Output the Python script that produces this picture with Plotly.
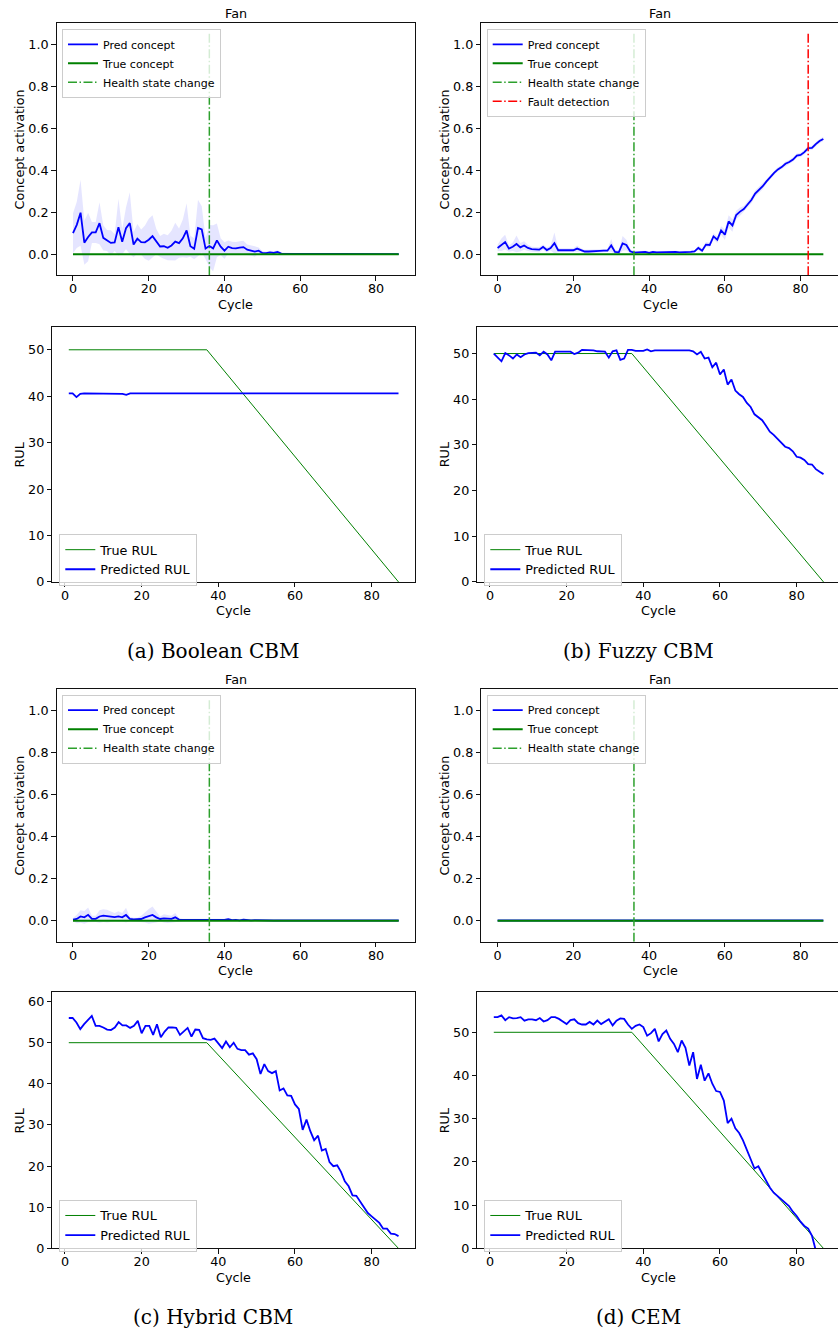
import plotly.graph_objects as go

W, H = 838, 1339

# ---------------- data ----------------
cycles = list(range(87))            # concept plots: cycle 0..86
rul_cycles = list(range(1, 88))     # RUL plots: cycle 1..87

true_concept_x = [0, 86]
true_concept_y = [0.0, 0.0]
true_rul_x = [1, 37, 87]
true_rul_y = [50, 50, 0]
health_state_cycle = 36
fault_detection_cycle = 82
vline_span = [-0.1, 1.05]

# (a) Boolean CBM - predicted concept and spread
pred_concept_a = [0.100, 0.140, 0.198, 0.055, 0.082, 0.104, 0.104, 0.148, 0.078, 0.066,
                  0.054, 0.056, 0.129, 0.060, 0.124, 0.148, 0.046, 0.074, 0.058, 0.057,
                  0.069, 0.086, 0.060, 0.037, 0.038, 0.031, 0.042, 0.060, 0.053, 0.076,
                  0.113, 0.038, 0.026, 0.125, 0.118, 0.027, 0.039, 0.028, 0.066, 0.036,
                  0.017, 0.036, 0.029, 0.028, 0.032, 0.034, 0.022, 0.019, 0.013, 0.017,
                  0.006, 0.005, 0.009, 0.006, 0.011, 0.003, 0.003, 0.003, 0.002, 0.002,
                  0.002, 0.001, 0.001, 0.001, 0.001, 0.001, 0.001, 0.001, 0.001, 0.001,
                  0.001, 0.001, 0.001, 0.001, 0.001, 0.001, 0.001, 0.001, 0.001, 0.001,
                  0.001, 0.001, 0.001, 0.001, 0.001, 0.001, 0.001]
std_concept_a = [0.095, 0.110, 0.157, 0.105, 0.115, 0.050, 0.050, 0.100, 0.060, 0.050,
                 0.060, 0.040, 0.135, 0.060, 0.100, 0.147, 0.060, 0.070, 0.060, 0.080,
                 0.100, 0.100, 0.060, 0.050, 0.060, 0.060, 0.070, 0.090, 0.070, 0.090,
                 0.130, 0.050, 0.050, 0.135, 0.110, 0.050, 0.100, 0.110, 0.080, 0.040,
                 0.040, 0.030, 0.030, 0.030, 0.030, 0.030, 0.025, 0.025, 0.025, 0.015,
                 0.010, 0.008, 0.008, 0.008, 0.008, 0.005, 0.005, 0.004, 0.004, 0.003,
                 0.003, 0.002, 0.002, 0.002, 0.002, 0.002, 0.002, 0.002, 0.002, 0.002,
                 0.002, 0.002, 0.002, 0.002, 0.002, 0.002, 0.002, 0.002, 0.002, 0.002,
                 0.002, 0.002, 0.002, 0.002, 0.002, 0.002, 0.002]

# (b) Fuzzy CBM
pred_concept_b = [0.030, 0.045, 0.058, 0.027, 0.036, 0.049, 0.033, 0.042, 0.030, 0.024,
                  0.022, 0.022, 0.035, 0.020, 0.030, 0.053, 0.019, 0.019, 0.019, 0.020,
                  0.019, 0.027, 0.020, 0.013, 0.013, 0.013, 0.013, 0.016, 0.017, 0.017,
                  0.042, 0.011, 0.009, 0.052, 0.044, 0.014, 0.008, 0.009, 0.011, 0.011,
                  0.006, 0.011, 0.009, 0.010, 0.010, 0.010, 0.010, 0.011, 0.009, 0.009,
                  0.010, 0.011, 0.014, 0.030, 0.017, 0.046, 0.044, 0.085, 0.069, 0.113,
                  0.093, 0.156, 0.137, 0.187, 0.203, 0.215, 0.237, 0.258, 0.289, 0.305,
                  0.324, 0.347, 0.368, 0.387, 0.404, 0.415, 0.431, 0.439, 0.451, 0.470,
                  0.473, 0.486, 0.505, 0.506, 0.524, 0.539, 0.549]
std_concept_b = [0.015, 0.030, 0.035, 0.015, 0.020, 0.040, 0.020, 0.020, 0.015, 0.012,
                 0.012, 0.012, 0.012, 0.012, 0.012, 0.050, 0.010, 0.010, 0.010, 0.010,
                 0.010, 0.015, 0.008, 0.008, 0.008, 0.008, 0.008, 0.008, 0.008, 0.008,
                 0.030, 0.010, 0.010, 0.035, 0.025, 0.010, 0.006, 0.006, 0.006, 0.006,
                 0.006, 0.006, 0.006, 0.006, 0.006, 0.006, 0.006, 0.006, 0.006, 0.006,
                 0.006, 0.006, 0.006, 0.010, 0.010, 0.012, 0.012, 0.015, 0.015, 0.020,
                 0.025, 0.030, 0.030, 0.020, 0.020, 0.015, 0.015, 0.015, 0.015, 0.015,
                 0.015, 0.010, 0.010, 0.010, 0.010, 0.010, 0.010, 0.010, 0.010, 0.010,
                 0.010, 0.010, 0.010, 0.010, 0.010, 0.010, 0.010]

# (c) Hybrid CBM
pred_concept_c = [0.005, 0.008, 0.020, 0.016, 0.028, 0.009, 0.009, 0.020, 0.024, 0.022,
                  0.019, 0.017, 0.020, 0.016, 0.027, 0.009, 0.006, 0.006, 0.008, 0.016,
                  0.020, 0.027, 0.016, 0.008, 0.011, 0.009, 0.009, 0.016, 0.005, 0.004,
                  0.004, 0.006, 0.003, 0.004, 0.005, 0.003, 0.004, 0.003, 0.006, 0.003,
                  0.004, 0.007, 0.003, 0.004, 0.002, 0.005, 0.003, 0.002, 0.003, 0.002,
                  0.001, 0.001, 0.001, 0.001, 0.002, 0.001, 0.001, 0.001, 0.001, 0.001,
                  0.001, 0.001, 0.001, 0.001, 0.001, 0.001, 0.001, 0.001, 0.001, 0.001,
                  0.001, 0.001, 0.001, 0.001, 0.001, 0.001, 0.001, 0.001, 0.001, 0.001,
                  0.001, 0.001, 0.001, 0.001, 0.001, 0.001, 0.001]
std_concept_c = [0.008, 0.020, 0.030, 0.030, 0.035, 0.015, 0.015, 0.030, 0.030, 0.030,
                 0.025, 0.020, 0.025, 0.020, 0.035, 0.010, 0.008, 0.008, 0.015, 0.025,
                 0.035, 0.040, 0.025, 0.012, 0.020, 0.020, 0.015, 0.020, 0.008, 0.005,
                 0.005, 0.005, 0.005, 0.005, 0.005, 0.005, 0.005, 0.005, 0.005, 0.005,
                 0.005, 0.005, 0.005, 0.005, 0.005, 0.005, 0.005, 0.005, 0.005, 0.005,
                 0.003, 0.002, 0.002, 0.002, 0.003, 0.002, 0.002, 0.002, 0.002, 0.002,
                 0.002, 0.002, 0.002, 0.002, 0.002, 0.002, 0.002, 0.002, 0.002, 0.002,
                 0.002, 0.002, 0.002, 0.002, 0.002, 0.002, 0.002, 0.002, 0.002, 0.002,
                 0.002, 0.002, 0.002, 0.002, 0.002, 0.002, 0.002]

# (d) CEM
pred_concept_d = [0.001, 0.001, 0.001, 0.001, 0.001, 0.001, 0.001, 0.001, 0.001, 0.001,
                  0.001, 0.001, 0.001, 0.001, 0.001, 0.001, 0.001, 0.001, 0.001, 0.001,
                  0.001, 0.001, 0.001, 0.001, 0.001, 0.001, 0.001, 0.001, 0.001, 0.001,
                  0.001, 0.002, 0.004, 0.001, 0.001, 0.001, 0.001, 0.001, 0.001, 0.001,
                  0.001, 0.001, 0.001, 0.001, 0.001, 0.001, 0.001, 0.001, 0.001, 0.001,
                  0.001, 0.001, 0.001, 0.001, 0.001, 0.001, 0.001, 0.001, 0.001, 0.001,
                  0.001, 0.001, 0.001, 0.001, 0.001, 0.001, 0.001, 0.001, 0.001, 0.001,
                  0.001, 0.001, 0.001, 0.001, 0.001, 0.001, 0.001, 0.001, 0.001, 0.001,
                  0.001, 0.001, 0.001, 0.001, 0.001, 0.001, 0.001]
std_concept_d = [0.001] * 87

# RUL predictions (cycles 1..87)
pred_rul_a = [40.6, 40.6, 39.8, 40.5, 40.6, 40.6, 40.6, 40.6, 40.6, 40.6,
              40.6, 40.6, 40.6, 40.6, 40.5, 40.3, 40.6, 40.6, 40.6, 40.6,
              40.6, 40.6, 40.6, 40.6, 40.6, 40.6, 40.6, 40.6, 40.6, 40.6,
              40.5, 40.6, 40.6, 40.6, 40.6, 40.6, 40.6, 40.6, 40.6, 40.6,
              40.6, 40.6, 40.6, 40.6, 40.6, 40.6, 40.6, 40.6, 40.6, 40.6,
              40.6, 40.6, 40.6, 40.6, 40.6, 40.6, 40.6, 40.6, 40.6, 40.6,
              40.6, 40.6, 40.6, 40.6, 40.6, 40.6, 40.6, 40.6, 40.6, 40.6,
              40.6, 40.6, 40.6, 40.6, 40.6, 40.6, 40.6, 40.6, 40.6, 40.6,
              40.6, 40.6, 40.6, 40.6, 40.6, 40.6, 40.6]
pred_rul_b = [50.0, 49.2, 48.3, 50.1, 49.6, 48.9, 49.8, 49.2, 49.8, 50.1,
              50.2, 50.2, 49.6, 50.4, 49.8, 48.5, 50.4, 50.4, 50.3, 50.3,
              50.4, 49.9, 50.2, 50.8, 50.8, 50.8, 50.7, 50.5, 50.5, 50.4,
              49.1, 50.5, 50.7, 48.6, 48.9, 50.8, 50.8, 50.6, 50.6, 50.6,
              50.9, 50.5, 50.7, 50.7, 50.7, 50.7, 50.7, 50.7, 50.7, 50.8,
              50.8, 50.7, 50.5, 49.8, 50.4, 48.9, 49.1, 47.0, 48.0, 45.4,
              46.5, 43.2, 44.3, 41.9, 41.1, 40.5, 39.2, 38.3, 36.7, 36.1,
              35.4, 34.2, 32.9, 32.2, 31.3, 30.5, 29.6, 29.3, 28.6, 27.4,
              27.2, 26.7, 25.8, 25.7, 24.7, 24.1, 23.6]
pred_rul_c = [56.0, 56.0, 54.9, 53.3, 54.5, 55.6, 56.5, 54.1, 54.1, 53.7,
              53.2, 53.1, 53.7, 55.0, 54.2, 54.2, 53.6, 54.1, 55.3, 52.3,
              54.1, 54.1, 51.9, 54.5, 51.3, 52.7, 53.7, 53.7, 53.6, 51.9,
              52.7, 53.6, 51.5, 53.2, 53.1, 51.1, 50.8, 50.7, 51.0, 49.7,
              48.7, 50.3, 48.9, 50.0, 48.5, 48.2, 48.2, 47.1, 47.4, 46.0,
              42.4, 44.8, 43.1, 42.6, 43.1, 38.4, 38.9, 37.2, 37.1, 35.0,
              33.9, 28.8, 31.3, 28.5, 26.3, 27.4, 23.8, 24.2, 21.0, 20.0,
              20.2, 18.6, 16.3, 15.1, 12.9, 12.8, 11.3, 10.1, 8.6, 7.8,
              7.0, 6.2, 4.8, 4.8, 3.6, 3.5, 3.0]
pred_rul_d = [53.5, 53.5, 53.9, 52.8, 53.5, 53.2, 53.3, 53.5, 52.7, 53.0,
              53.0, 52.8, 53.3, 52.5, 52.8, 53.5, 53.5, 53.1, 52.5, 51.9,
              52.8, 53.0, 52.1, 51.8, 51.8, 52.4, 51.8, 52.7, 51.9, 52.5,
              53.0, 51.6, 52.7, 53.2, 53.1, 51.8, 50.8, 51.5, 51.8, 51.2,
              49.2, 49.8, 50.8, 47.9, 49.6, 50.4, 48.5, 47.3, 45.4, 48.1,
              46.4, 42.3, 45.4, 39.2, 42.5, 38.8, 40.5, 38.1, 36.4, 36.2,
              34.2, 29.0, 30.0, 27.8, 26.7, 25.0, 22.9, 20.8, 18.5, 19.0,
              17.3, 15.8, 14.1, 12.9, 12.1, 11.3, 10.5, 9.8, 8.5, 7.5,
              6.2, 5.2, 4.6, 2.9, -0.5, -3.0, -4.0]

concept_ticks = [0.0, 0.2, 0.4, 0.6, 0.8, 1.0]
cycle_ticks = [0, 20, 40, 60, 80]
captions = ["(a) Boolean CBM", "(b) Fuzzy CBM", "(c) Hybrid CBM", "(d) CEM"]

# ---------------- layout geometry (pixels) ----------------
FONT = "DejaVu Sans"
FS = 12.75
BLUE = "#0000ff"
GREEN = "#008000"
HGREEN = "#2ca02c"
RED = "#ff0000"
DASHDOT = "9px,2.5px,1.5px,2.5px"

fig = go.Figure()
annotations = []
layout = {}


def fx(p):
    return p / W


def fy(p):
    return 1 - p / H


def ax_names(i):
    return ("x" if i == 1 else f"x{i}"), ("y" if i == 1 else f"y{i}")


def lay_names(i):
    return ("xaxis" if i == 1 else f"xaxis{i}"), ("yaxis" if i == 1 else f"yaxis{i}")


def add_axes(i, box, xrange, yrange, yticks, right_clipped, ytickformat=None):
    l, t, r, b = box
    xn, yn = ax_names(i)
    xl, yl = lay_names(i)
    common = dict(showline=True, linecolor="#111111", linewidth=1, ticks="outside",
                  ticklen=4.5, tickwidth=1, tickcolor="#111111", showgrid=False,
                  zeroline=False, tickfont=dict(family=FONT, size=FS, color="black"))
    layout[xl] = dict(common, domain=[fx(l), fx(r)], range=xrange, anchor=yn,
                      tickvals=cycle_ticks, mirror=True, ticklabelstandoff=-3)
    yd = dict(common, domain=[fy(b), fy(t)], range=yrange, anchor=xn,
              tickvals=yticks, mirror=not right_clipped)
    if ytickformat:
        yd["tickformat"] = ytickformat
    layout[yl] = yd


def text(x, y, s, size=FS, family=FONT, angle=0):
    annotations.append(dict(x=fx(x), y=fy(y), xref="paper", yref="paper", text=s,
                            showarrow=False, xanchor="center", yanchor="middle",
                            textangle=angle, font=dict(family=family, size=size, color="black")))


def legend_cfg(x, y, size):
    return dict(x=fx(x), y=fy(y), xanchor="left", yanchor="top", xref="paper", yref="paper",
                bgcolor="rgba(255,255,255,0.8)", bordercolor="#cccccc", borderwidth=1,
                font=dict(family=FONT, size=size, color="black"), traceorder="normal")


def concept_panel(i, box, xrange, pred, std, fault, leg_name, leg_pos, right):
    xn, yn = ax_names(i)
    upper = [p + s for p, s in zip(pred, std)]
    lower = [p - s for p, s in zip(pred, std)]
    fig.add_trace(go.Scatter(x=cycles + cycles[::-1], y=upper + lower[::-1], fill="toself",
                             fillcolor="rgba(0,0,255,0.1)", line=dict(width=0),
                             mode="lines", showlegend=False, hoverinfo="skip",
                             xaxis=xn, yaxis=yn))
    fig.add_trace(go.Scatter(x=cycles, y=pred, mode="lines", name="Pred concept",
                             line=dict(color=BLUE, width=1.8), legend=leg_name,
                             xaxis=xn, yaxis=yn))
    fig.add_trace(go.Scatter(x=true_concept_x, y=true_concept_y, mode="lines",
                             name="True concept", line=dict(color=GREEN, width=2),
                             legend=leg_name, xaxis=xn, yaxis=yn))
    fig.add_trace(go.Scatter(x=[health_state_cycle] * 2, y=vline_span, mode="lines",
                             name="Health state change",
                             line=dict(color=HGREEN, width=1.5, dash=DASHDOT),
                             legend=leg_name, xaxis=xn, yaxis=yn))
    if fault:
        fig.add_trace(go.Scatter(x=[fault_detection_cycle] * 2, y=vline_span, mode="lines",
                                 name="Fault detection",
                                 line=dict(color=RED, width=1.5, dash=DASHDOT),
                                 legend=leg_name, xaxis=xn, yaxis=yn))
    add_axes(i, box, xrange, [-0.1, 1.1], concept_ticks, right, ".1f")
    layout[leg_name] = legend_cfg(leg_pos[0], leg_pos[1], 11)
    l, t, r, b = box
    rr = r if not right else 839.6
    cx = (l + rr) / 2
    text(cx, t - 10, "Fan")
    text(cx, b + 29, "Cycle")
    text(l - 37.5 if not right else l - 37.1, (t + b) / 2, "Concept activation", angle=-90)


def rul_panel(i, box, xrange, yrange, yticks, pred, leg_name, leg_pos, right, caption, cap_x):
    xn, yn = ax_names(i)
    fig.add_trace(go.Scatter(x=true_rul_x, y=true_rul_y, mode="lines", name="True RUL",
                             line=dict(color=GREEN, width=1), legend=leg_name,
                             xaxis=xn, yaxis=yn))
    fig.add_trace(go.Scatter(x=rul_cycles, y=pred, mode="lines", name="Predicted RUL",
                             line=dict(color=BLUE, width=1.8), legend=leg_name,
                             xaxis=xn, yaxis=yn))
    add_axes(i, box, xrange, yrange, yticks, right)
    layout[leg_name] = legend_cfg(leg_pos[0], leg_pos[1], FS)
    l, t, r, b = box
    rr = r if not right else 839.5
    cx = (l + rr) / 2
    text(cx, b + 29, "Cycle")
    text(l - 33 if not right else l - 33.3, (t + b) / 2, "RUL", angle=-90)
    text(cap_x, b + 69, caption, size=20, family="DejaVu Serif")


rul_ticks_50 = [0, 10, 20, 30, 40, 50]
rul_ticks_60 = [0, 10, 20, 30, 40, 50, 60]

# top-left / top-right concept panels
concept_panel(1, (56.7, 23.3, 415, 276.7), [-4.3, 90.3], pred_concept_a, std_concept_a,
              False, "legend", (62, 29), False)
concept_panel(2, (481.3, 23.3, 838, 276.7), [-4.3, 89.87], pred_concept_b, std_concept_b,
              True, "legend2", (486.7, 29), True)
# RUL panels row 1
rul_panel(3, (52.3, 328.3, 415, 585), [-3.3, 91.3], [0, 55], rul_ticks_50, pred_rul_a,
          "legend3", (59.3, 536.7), False, captions[0], 213)
rul_panel(4, (477.3, 328.3, 838, 585), [-3.3, 90.78], [0, 55.9], rul_ticks_50, pred_rul_b,
          "legend4", (484.3, 536.7), True, captions[1], 638)
# bottom concept panels
concept_panel(5, (56.7, 692.7, 415, 946.7), [-4.3, 90.3], pred_concept_c, std_concept_c,
              False, "legend5", (62, 698.3), False)
concept_panel(6, (481.3, 692.7, 838, 946.7), [-4.3, 89.87], pred_concept_d, std_concept_d,
              False, "legend6", (486.7, 698.3), True)
# RUL panels row 2
rul_panel(7, (52.3, 997.3, 415, 1255), [-3.3, 91.3], [0, 62.3], rul_ticks_60, pred_rul_c,
          "legend7", (59.3, 1206), False, captions[2], 213)
rul_panel(8, (477.3, 997.3, 838, 1255), [-3.3, 90.78], [0, 59.3], rul_ticks_50, pred_rul_d,
          "legend8", (484.3, 1206), True, captions[3], 638)

fig.update_layout(width=W, height=H, margin=dict(l=0, r=0, t=0, b=0),
                  paper_bgcolor="white", plot_bgcolor="white",
                  annotations=annotations, **layout)
fig.write_html("out.html")
